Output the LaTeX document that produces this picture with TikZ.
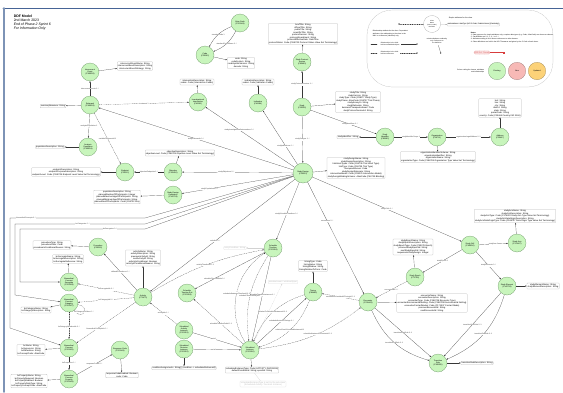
\documentclass[tikz,border=0pt]{standalone}
\usepackage{fontspec}
\setmainfont{Liberation Sans}
\usetikzlibrary{arrows.meta}

\definecolor{clsfill}{RGB}{200,245,188}
\definecolor{clsedge}{RGB}{95,135,90}
\definecolor{boxedge}{RGB}{185,185,185}
\definecolor{linecol}{RGB}{55,55,55}
\definecolor{framecol}{RGB}{70,100,150}
\definecolor{newfill}{RGB}{247,185,182}
\definecolor{updfill}{RGB}{252,210,120}
\definecolor{sdrred}{RGB}{215,60,60}

\tikzset{
  cls/.style={circle, draw=clsedge, fill=clsfill, line width=0.4pt, minimum size=36pt, inner sep=0pt, align=center, font=\fontsize{3.8}{4.3}\selectfont},
  attrs/.style={draw=boxedge, rounded corners=1.5pt, fill=white, align=center, inner sep=1.5pt, font=\fontsize{4.3}{5}\selectfont},
  faint/.style={attrs, draw=gray!25, text=gray!50},
  rel/.style={->, draw=linecol, line width=0.35pt},
  ref/.style={rel, dash pattern=on 2pt off 1.5pt},
  lbl/.style={fill=white, inner sep=0.5pt, font=\fontsize{3.6}{4}\selectfont, text=linecol},
  keytext/.style={align=left, font=\fontsize{3.4}{4.3}\selectfont},
}

\begin{document}
\begin{tikzpicture}[font=\fontsize{4.3}{5}\selectfont, line join=round, line cap=round, >={Latex[length=3pt,width=2.4pt]}, x=2pt, y=-2pt]
\useasboundingbox (0,0) rectangle (563,392);
\fill[white] (0,0) rectangle (563,392);
\draw[framecol, line width=1.2pt] (3,8) -- (563,8);
\draw[framecol!70, line width=3pt] (4,8) -- (4,392);

% title
\node[anchor=north west, align=left, font=\fontsize{7}{8.4}\selectfont] (title) at (12,13) {\textbf{DDF Model}\\2nd March 2023\\\textit{End of Phase 2 Sprint 6}\\\textit{For Information Only}};

% classes
\foreach \n/\x/\y/\t in {
  altcode/240/23/{Alias Code\\(C201344)},
  code/205/55/{Code\\(C25162)},
  spv/302/62/{Study Protocol\\Version\\(C93490)},
  study/302/107/{Study\\(C15206)},
  sid/385/137/{Study\\Identifier\\(C83082)},
  org/437/137/{Organization\\(C19711)},
  addr/500/137/{Address\\(C25407)},
  ii/198/102/{Investigational\\Intervention\\(C41161)},
  ind/258/103/{Indication\\(C41184)},
  ice/90/72/{Intercurrent\\Event\\(C188815)},
  est/90/105/{Estimand\\(C188813)},
  ap/88/147/{Analysis\\Population\\(C188814)},
  ep/125/172/{Endpoint\\(C25212)},
  obj/173/172/{Objective\\(C142450)},
  pop/173/195/{Study Design\\Population\\(C142728)},
  sched/273/248/{Schedule\\Timeline\\(C201356)},
  act/143/297/{Activity\\(C71473)},
  proc/98/247/{Procedure\\(C25218)},
  bcs/69/282/{Biomedical\\Concept\\Surrogate\\(C201348)},
  bcc/69/303/{Biomedical\\Concept\\Category\\(C201347)},
  bc/69/348/{Biomedical\\Concept\\(C201345)},
  bcp/69/379/{Biomedical\\Concept\\Property\\(C201346)},
  rc/120/350/{Response Code\\(C201349)},
  exit/187/293/{Schedule\\Timeline Exit\\(C201358)},
  sai/184/330/{Scheduled\\Activity\\Instance\\(C201351)},
  sdi/184/349/{Scheduled\\Decision\\Instance\\(C201352)},
  si/250/350/{Scheduled\\Instance\\(C201350)},
  tim/313/292/{Timing\\(C80484)},
  enc/368/302/{Encounter\\(C215445)},
  epoch/415/277/{Study Epoch\\(C71738)},
  cell/470/245/{Study Cell\\(C188810)},
  arm/517/243/{Study Arm\\(C174447)},
  elem/507/286/{Study Element\\(C142735)},
  rule/438/363/{Transition\\Rule\\(C188811)}}
  {\node[cls] (\n) at (\x,\y) {\t};}
\node[cls, minimum size=40pt] (sd) at (303,173) {Study Design\\(C15320)};

% attributes
\node[attrs] (codeattr) at (241,63) {code: String\\codeSystem: String\\codeSystemVersion: String\\decode: String};
\node[attrs] (spvattr) at (303,34) {briefTitle: String\\officialTitle: String\\publicTitle: String\\scientificTitle: String\\protocolVersion: String\\protocolAmendment: String\\protocolEffectiveDate: DateTime\\protocolStatus: Code (C188723 Protocol Status Value Set Terminology)};
\node[attrs] (studyattr) at (358,102) {studyTitle: String\\studyVersion: String\\studyType: Code (C99077 Study Type)\\studyPhase: AliasCode (C66737 Trial Phase)\\studyAcronym: String\\studyRationale: String\\businessTherapeuticAreas: Code\\studyProtocolVersionId: String};
\node[attrs] (sidattr) at (348,137) {studyIdentifier: String};
\node[attrs] (orgattr) at (438,157) {organizationIdentifierScheme: String\\organizationIdentifier: String\\organizationName: String\\organizationType: Code (C188724 Organization Type Value Set Terminology)};
\node[attrs] (addrattr) at (500,108) {text: String\\line: String\\city: String\\district: String\\state: String\\postalCode: String\\country: Code (C25464 Country ISO 3166)};
\node[attrs] (sdattr) at (356,168) {studyDesignName: String\\studyDesignDescription: String\\trialIntentTypes: Code (C66736 Trial Intent Type)\\trialType: Code (C66739 Trial Type)\\therapeuticAreas: Code\\studyDesignRationale: String\\interventionModel: Code (C99076 Intervention Model)\\studyDesignBlindingScheme: AliasCode (C66735 Blinding)};
\node[attrs] (iiattr) at (197,82) {interventionDescription: String\\codes: Code (Intervention Codes)};
\node[attrs] (indattr) at (258,82) {indicationDescription: String\\codes: Code (Indication Codes)};
\node[attrs] (iceattr) at (135,66) {intercurrentEventName: String\\intercurrentEventDescription: String\\intercurrentEventStrategy: String};
\node[attrs] (estattr) at (53,106) {summaryMeasure: String};
\node[attrs] (apattr) at (50,147) {populationDescription: String};
\node[attrs] (epattr) at (66,172) {endpointDescription: String\\endpointPurposeDescription: String\\endpointLevel: Code (C188726 Endpoint Level Value Set Terminology)};
\node[attrs] (objattr) at (180,153) {objectiveDescription: String\\objectiveLevel: Code (C188725 Objective Level Value Set Terminology)};
\node[attrs] (popattr) at (117,197) {populationDescription: String\\plannedNumberOfParticipants: Integer\\plannedMaximumAgeOfParticipants: String\\plannedMinimumAgeOfParticipants: String\\plannedSexOfParticipants: Code (C66732 Sex)};
\node[faint] (schedattr) at (235,248) {entryCondition: String};
\node[attrs] (actattr) at (143,258) {activityName: String\\activityDescription: String\\previousActivityId: String\\nextActivityId: String\\activityIsConditional: Boolean\\activityIsConditionalReason: String};
\node[attrs] (procattr) at (52,245) {procedureType: String\\procedureCode: Code\\procedureIsConditionalReason: String};
\node[attrs] (bcsattr) at (68,259) {bcSurrogateName: String\\bcSurrogateDescription: String\\bcSurrogateReference: String};
\node[attrs] (bccattr) at (36,310) {bcCategoryName: String\\bcCategoryDescription: String};
\node[attrs] (bcattr) at (31,350) {bcName: String\\bcSynonyms: String\\bcReference: String\\bcConceptCode: AliasCode};
\node[attrs] (bcpattr) at (29,381) {bcPropertyName: String\\bcPropertyRequired: Boolean\\bcPropertyEnabled: Boolean\\bcPropertyDataType: String\\bcPropertyConceptCode: AliasCode};
\node[attrs] (rcattr) at (122,375) {responseCodeEnabled: Boolean\\code: Code};
\node[attrs] (sdiattr) at (184,368) {conditionAssignments: String[\,] (condition -> scheduledInstanceId)};
\node[attrs] (siattr) at (252,370) {scheduledInstanceType: Code (ACTIVITY, DECISION)\\defaultConditionId: String, epochId: String};
\node[faint] (siextra) at (263,384) {scheduledInstanceType is set by the sub-class\\(Scheduled Activity / Decision Instance)};
\node[faint] (fnote) at (283,282) {windowLower / windowUpper};
\node[attrs] (timattr) at (313,266) {timingType: Code\\timingValue: String\\timingWindow: String\\timingRelativeToFrom: Code};
\node[attrs] (encattr) at (432,303) {encounterName: String\\encounterDescription: String\\encounterType: Code (C188728 Encounter Type)\\encounterEnvironmentalSetting: Code (C188729 Environmental Setting)\\encounterContactModes: Code (C171537 Contact Mode)\\previousEncounterId: String\\nextEncounterId: String};
\node[attrs] (epochattr) at (413,247) {studyEpochName: String\\studyEpochDescription: String\\studyEpochType: Code (C99079 Epoch)\\previousStudyEpochId: String\\nextStudyEpochId: String\\sequenceInStudyDesign: Integer};
\node[attrs] (armattr) at (515,216) {studyArmName: String\\studyArmDescription: String\\studyArmType: Code (C174222 Study Arm Type Value Set Terminology)\\studyArmDataOriginDescription: String\\studyArmDataOriginType: Code (C188727 Data Origin Type Value Set Terminology)};
\node[attrs] (elemattr) at (543,286) {studyElementName: String\\studyElementDescription: String};
\node[attrs] (ruleattr) at (477,363) {transitionRuleDescription: String};

\foreach \a/\b in {code/codeattr, spv/spvattr, study/studyattr, sid/sidattr, org/orgattr, addr/addrattr, sd/sdattr, ii/iiattr, ind/indattr, ice/iceattr, est/estattr, ap/apattr, ep/epattr, obj/objattr, pop/popattr, act/actattr, proc/procattr, bcs/bcsattr, bcc/bccattr, bc/bcattr, bcp/bcpattr, rc/rcattr, sdi/sdiattr, si/siattr, tim/timattr, enc/encattr, epoch/epochattr, arm/armattr, elem/elemattr, rule/ruleattr}
  {\draw[rel] (\a) -- (\b);}
\draw[rel, draw=gray!35] (sched) -- (schedattr);
\draw[gray!35, line width=0.35pt] (siattr) -- (siextra);
\draw[ref, draw=gray!35] (si) -- (fnote);

% relationships
\foreach \a/\b/\l/\p in {
  study/spv/{studyProtocolVersions 1..*}/0.5,
  study/sid/{studyIdentifiers 1..*}/0.6,
  sid/org/{studyIdentifierScope 1}/0.5,
  org/addr/{organizationLegalAddress 0..1}/0.5,
  study/sd/{studyDesigns 1..*}/0.5,
  sd/ii/{studyInvestigationalInterventions 0..*}/0.62,
  sd/ind/{studyIndications 0..*}/0.35,
  sd/est/{studyEstimands 0..*}/0.5,
  sd/obj/{studyObjectives 0..*}/0.6,
  sd/pop/{studyPopulations 0..*}/0.75,
  sd/act/{activities 0..*}/0.55,
  sd/sched/{studyScheduleTimelines 0..*}/0.55,
  sd/enc/{encounters 0..*}/0.35,
  sd/cell/{studyCells 1..*}/0.5,
  cell/arm/{studyArm 1}/0.5,
  cell/epoch/{studyEpoch 1}/0.5,
  cell/elem/{studyElements 0..*}/0.5,
  est/ice/{intercurrentEvents 1..*}/0.5,
  est/ap/{analysisPopulation 1}/0.5,
  obj/ep/{objectiveEndpoints 1..*}/0.5,
  act/proc/{definedProcedures 0..*}/0.5,
  bc/bcp/{bcProperties 0..*}/0.5,
  bcp/rc/{responseCodes 0..*}/0.5,
  sched/exit/{scheduleTimelineExits 0..*}/0.72,
  sched/si/{scheduleTimelineInstances 1..*}/0.45,
  sai/si/{isA}/0.45,
  sdi/si/{isA}/0.45,
  si/tim/{scheduledInstanceTimings 0..*}/0.5,
  elem/rule/{transitionStartRule 0..1}/0.5,
  enc/rule/{transitionStartRule 0..1}/0.5}
  {\draw[rel] (\a) -- node[lbl, pos=\p] {\l} (\b);}

\foreach \a/\b/\l/\p in {
  est/ii/{treatment 1}/0.5,
  est/ep/{variableOfInterestId 1}/0.5,
  act/bcs/{bcSurrogateIds 0..*}/0.5,
  act/bcc/{bcCategoryIds 0..*}/0.5,
  act/bc/{biomedicalConceptIds 0..*}/0.65,
  bcc/bc/{bcCategoryMemberIds 0..*}/0.55,
  sai/act/{activityIds 1..*}/0.5,
  si/exit/{scheduleTimelineExitId 0..1}/0.45,
  epoch/enc/{encounterIds 0..*}/0.5,
  enc/tim/{encounterScheduledAtTimingId 0..1}/0.5}
  {\draw[ref] (\a) -- node[lbl, pos=\p] {\l} (\b);}

\draw[rel] (altcode) to[bend right=20] node[lbl] {standardCode 1} (code);
\draw[rel] (altcode) to[bend left=20] node[lbl] {standardCodeAliases 0..*} (code);
\draw[ref] (act) to[bend left=10] node[lbl] {activityTimelineId 0..1} (sched);
\draw[ref] (sched) to[bend right=20] node[lbl] {scheduleTimelineEntryId 1} (si);
\draw[ref] (si) to[bend left=45] node[lbl] {scheduledInstanceTimelineId 0..1} (sched);
\draw[ref] (tim) to[bend left=25] node[lbl] {relativeFromScheduledInstanceId 1} (si);
\draw[ref] (tim) to[bend right=25] node[lbl] {relativeToScheduledInstanceId 0..1} (si);
\draw[ref] (si) to[bend right=15] node[lbl, pos=0.55] {scheduledInstanceEncounterId 0..1} (enc);
\draw[rel] (elem) to[bend left=25] node[lbl] {transitionEndRule 0..1} (rule);
\draw[rel] (enc) to[bend right=25] node[lbl] {transitionEndRule 0..1} (rule);
\draw[ref] (bcc.-10) .. controls +(-10:26pt) and +(-50:26pt) .. node[lbl] {bcCategoryChildren 0..*} (bcc.-55);

% routed round the left side
\draw[rel] (sd) -- (145,218) -- node[lbl, pos=0.88] {biomedicalConcepts 0..*} (10,218) -- (10,328) -- (bc);
\draw[rel] (sd) -- (145,224) -- node[lbl, pos=0.48] {bcCategories 0..*} (15,224) -- (15,295) -- (bcc);
\draw[rel] (sd) -- (145,229) -- node[lbl, pos=0.28] {bcSurrogates 0..*} (20,229) -- (20,282) -- (bcs);

% key
\draw[gray!60, densely dotted, line width=0.5pt, rounded corners=50pt] (367,10) rectangle (553,87);
\node[circle, draw=gray!70, fill=white, minimum size=34pt, inner sep=0pt, align=center, font=\fontsize{3}{3.5}\selectfont] (keycls) at (432,24) {Class\\Name\\(NCI C-Code)\\Definition};
\coordinate (keyref) at (398,24);
\draw[ref] (keycls) -- (keyref);
\node[keytext, anchor=north west] (keyreftext) at (371,29) {Relationship attribute for the class. Dependent\\attributes, the relationship to the class in the\\UML is a reference (identifier) only};
\coordinate (keys1) at (371,44); \coordinate (keys2) at (377,44);
\coordinate (keyd1) at (371,53); \coordinate (keyd2) at (377,53);
\draw[linecol, line width=0.35pt] (keys1) -- (keys2);
\draw[linecol, line width=0.35pt, dash pattern=on 2pt off 1.5pt] (keyd1) -- (keyd2);
\node[keytext, anchor=west, font=\fontsize{3.2}{3.9}\selectfont] (keyreltext) at (379,44) {Relationships in the UML\\held as embedded objects};
\node[keytext, anchor=west, font=\fontsize{3.2}{3.9}\selectfont] (keydeptext) at (379,53) {Relationships in the UML\\held as references};
\coordinate (keyrelend) at (418,44);
\coordinate (keydepend) at (418,53);
\draw[rel] (keyreltext) -- (keyrelend);
\draw[ref] (keydeptext) -- (keydepend);
\node[align=center, font=\fontsize{3.2}{3.9}\selectfont] (keyrelname) at (437,41) {relationshipName cardinality\\only a reference to\\the definition};
\coordinate (keyrelnameend) at (441,54);
\draw[rel] (keyrelname) -- (keyrelnameend);
\node[keytext, anchor=west, font=\fontsize{3.6}{4.3}\selectfont] (keysimple) at (447,18.5) {Simple attributes for the class};
\node[attrs, anchor=west, font=\fontsize{3.4}{4}\selectfont] (keyattr) at (447,24.5) {attributeName: dataType (NCI C-Code, Codelist Name) [Cardinality]};
\draw[linecol, line width=0.35pt] (keycls) -- (keyattr);
\node[keytext, anchor=north west] (keynotes) at (469,30.5) {\textbf{Notes:}\\1. Data types are for simple attributes only; complex data types (e.g. Code, AliasCode) are shown as classes.\\2. Cardinalities are 0..1, 1, 0..* or 1..*\\3. Attributes ending in Id or Ids are references to other classes.\\4. Class definitions are held in the NCI Thesaurus and given by the C-Code of each class.};
\node[draw=sdrred, dash pattern=on 1.5pt off 1pt, rounded corners=3pt, fill=sdrred!8, text=sdrred, font=\fontsize{3.6}{4}\selectfont, inner sep=1.5pt] (keysdr) at (482,52.5) {SDR Ref. Classes};
\coordinate (keysdrend) at (504,52.5);
\draw[sdrred, densely dotted, line width=0.5pt, -{Square[length=2pt,width=2pt]}] (keysdr) -- (keysdrend);
\node[keytext, anchor=east, align=right] (keycolour) at (486,71) {Colour coding for classes, attributes\\and relationships};
\foreach \n/\x/\c/\t in {keyold/497/clsfill/Existing, keynew/517/newfill/New, keyupd/537/updfill/Updated}
  {\node[cls, fill=\c, draw=\c!60!black, minimum size=35pt] (\n) at (\x,71) {\t};}
\end{tikzpicture}
\end{document}
